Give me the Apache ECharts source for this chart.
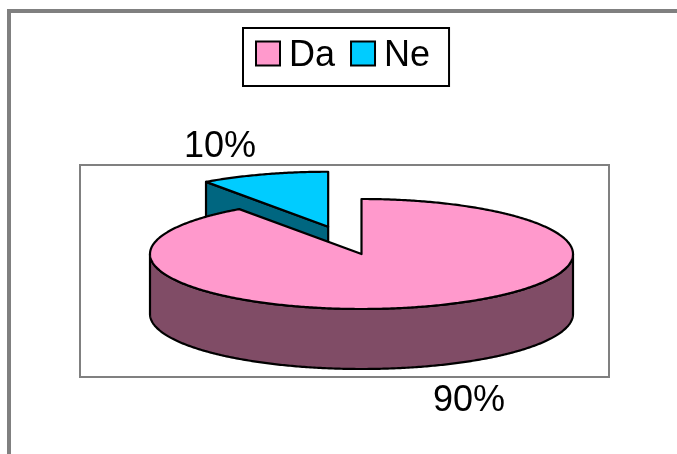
<!DOCTYPE html>
<html>
<head>
<meta charset="utf-8">
<style>html,body{margin:0;padding:0;background:#fff}#c{width:677px;height:454px}</style>
<script src="https://cdn.jsdelivr.net/npm/echarts@6/dist/echarts.min.js"></script>
</head>
<body>
<div id="c"></div>
<script>
const categories = ['Da', 'Ne'];
const values = [90.2, 9.8];
const topColors = ['#FF99CC', '#00CCFF'];
const sideColors = ['#804C66', '#006680'];

// Layout of the tilted pie
const CX = 361.5, CY = 254, RX = 211.5, RY = 55, DEPTH = 60;
const EXPLODE = [0, 0.52];
const LABEL_POS = [[469, 401], [220, 147.5]];
const FONT = '"Liberation Sans", Arial, sans-serif';
const total = values.reduce((a, b) => a + b, 0);

function slice(i) {
  let start = 0;
  for (let k = 0; k < i; k++) start += values[k] / total * 2 * Math.PI;
  const end = start + values[i] / total * 2 * Math.PI;
  const mid = (start + end) / 2;
  const cx = CX + EXPLODE[i] * RX * Math.sin(mid);
  const cy = CY - EXPLODE[i] * RY * Math.cos(mid);
  const at = (a, d) => [cx + RX * Math.sin(a), cy - RY * Math.cos(a) + (d || 0)];
  return {start, end, cx, cy, at};
}
function arc(s, a0, a1, d) {
  const n = Math.max(2, Math.ceil(Math.abs(a1 - a0) / 0.01));
  const pts = [];
  for (let j = 0; j <= n; j++) pts.push(s.at(a0 + (a1 - a0) * j / n, d));
  return pts;
}
function renderSlice(i) {
  return function () {
    const s = slice(i);
    const line = {stroke: '#000', lineWidth: 2.2, lineJoin: 'round'};
    const children = [];
    const side = sideColors[i];
    // radial wall that faces the viewer (end edge of the slice)
    if (i === 1) {
      const a = s.at(s.start), apex = [s.cx, s.cy];
      children.push({type: 'polygon', shape: {points: [apex, a, [a[0], a[1] + DEPTH], [apex[0], apex[1] + DEPTH]]},
        style: Object.assign({fill: side}, line)});
    }
    // outer rim, visible half only
    const a0 = Math.max(s.start, Math.PI / 2), a1 = Math.min(s.end, 3 * Math.PI / 2);
    if (a1 > a0) {
      const pts = arc(s, a0, a1, 0).concat(arc(s, a1, a0, DEPTH));
      children.push({type: 'polygon', shape: {points: pts}, style: Object.assign({fill: side}, line)});
    }
    // top face
    const top = [[s.cx, s.cy]].concat(arc(s, s.start, s.end, 0));
    children.push({type: 'polygon', shape: {points: top}, style: Object.assign({fill: topColors[i]}, line)});
    // percent label
    children.push({type: 'text', style: {
      text: Math.round(values[i] / total * 100) + '%',
      x: LABEL_POS[i][0], y: LABEL_POS[i][1], align: 'center', verticalAlign: 'middle',
      font: '36px ' + FONT, fill: '#000'}});
    return {type: 'group', children};
  };
}

const chart = echarts.init(document.getElementById('c'), null, {renderer: 'canvas'});
chart.setOption({
  animation: false,
  backgroundColor: '#fff',
  legend: {
    data: categories, left: 243, top: 28, padding: [10, 19, 12, 12],
    icon: 'rect', itemWidth: 24, itemHeight: 24, itemGap: 15,
    backgroundColor: '#fff', borderColor: '#000', borderWidth: 2, borderRadius: 0,
    selectedMode: false,
    formatter: name => '{t|' + name + '}',
    textStyle: {fontFamily: FONT, fontSize: 36, color: '#000',
      rich: {t: {fontFamily: FONT, fontSize: 36, color: '#000', padding: [5, 0, 0, 4]}}},
    itemStyle: {borderColor: '#000', borderWidth: 2}
  },
  graphic: [
    {type: 'rect', z: 0, shape: {x: 7, y: 9, width: 670, height: 4}, style: {fill: '#808080'}},
    {type: 'rect', z: 0, shape: {x: 7, y: 9, width: 4, height: 445}, style: {fill: '#808080'}},
    {type: 'rect', z: 0, shape: {x: 80, y: 165, width: 529, height: 212}, style: {fill: '#fff', stroke: '#808080', lineWidth: 2}}
  ],
  series: [
    {type: 'custom', name: categories[1], coordinateSystem: 'none', z: 2, silent: true,
      itemStyle: {color: topColors[1]}, data: [[values[1]]], renderItem: renderSlice(1)},
    {type: 'custom', name: categories[0], coordinateSystem: 'none', z: 3, silent: true,
      itemStyle: {color: topColors[0]}, data: [[values[0]]], renderItem: renderSlice(0)}
  ]
});
</script>
</body>
</html>
